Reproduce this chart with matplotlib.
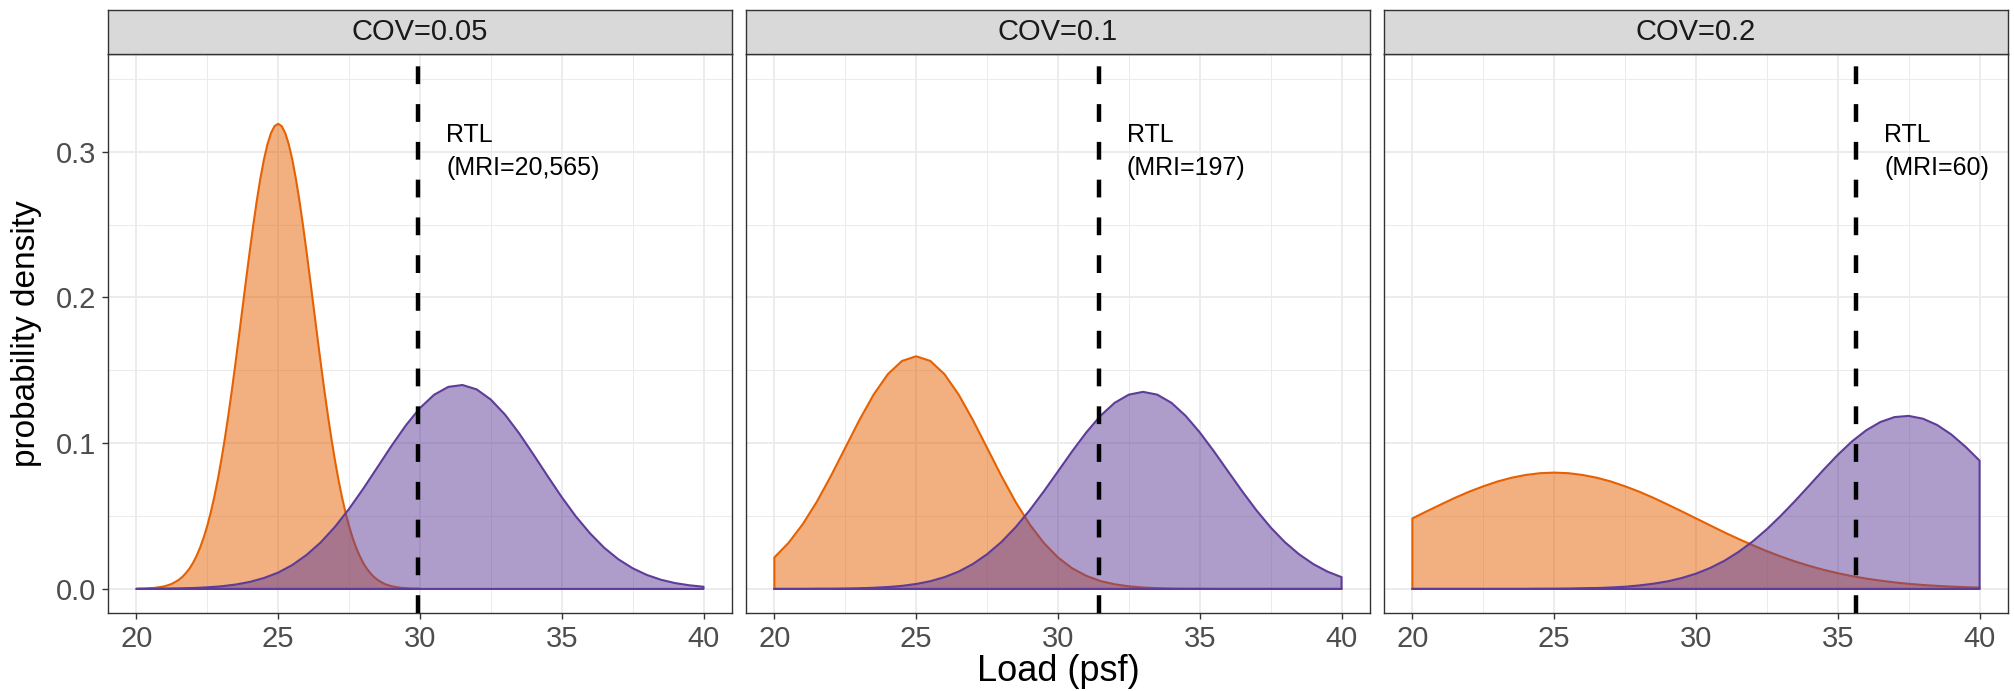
import numpy as np
import matplotlib.pyplot as plt
from matplotlib.colors import to_rgba

plt.rcParams['font.family'] = ['Liberation Sans', 'DejaVu Sans']

# load grid (psf) the densities were read on
load = np.arange(20, 40.01, 0.5)
load_fine = np.arange(20, 30.001, 0.125)   # narrow peak of COV=0.05 needs a finer grid

panels = ["COV=0.05", "COV=0.1", "COV=0.2"]
rtl = [29.92, 31.43, 35.64]
rtl_labels = ["RTL\n(MRI=20,565)", "RTL\n(MRI=197)", "RTL\n(MRI=60)"]

# orange densities
orange_05 = [0.0001, 0.0002, 0.0002, 0.0003, 0.0005, 0.0007, 0.0010, 0.0014, 0.0019, 0.0026,
             0.0035, 0.0048, 0.0063, 0.0083, 0.0109, 0.0140, 0.0179, 0.0227, 0.0284, 0.0352,
             0.0432, 0.0525, 0.0632, 0.0752, 0.0887, 0.1036, 0.1198, 0.1371, 0.1554, 0.1743,
             0.1936, 0.2129, 0.2317, 0.2498, 0.2666, 0.2816, 0.2946, 0.3051, 0.3128, 0.3175,
             0.3191,
             0.3175, 0.3128, 0.3051, 0.2946, 0.2816, 0.2666, 0.2498, 0.2317, 0.2129, 0.1936,
             0.1743, 0.1554, 0.1371, 0.1198, 0.1036, 0.0887, 0.0752, 0.0632, 0.0525, 0.0432,
             0.0352, 0.0284, 0.0227, 0.0179, 0.0140, 0.0109, 0.0083, 0.0063, 0.0048, 0.0035,
             0.0026, 0.0019, 0.0014, 0.0010, 0.0007, 0.0005, 0.0003, 0.0002, 0.0002, 0.0001]
orange_10 = [0.0216, 0.0316, 0.0444, 0.0599, 0.0777, 0.0968, 0.1159, 0.1333, 0.1473, 0.1564,
             0.1596, 0.1564, 0.1473, 0.1333, 0.1159, 0.0968, 0.0777, 0.0599, 0.0444, 0.0316,
             0.0216, 0.0142, 0.0090, 0.0054, 0.0032, 0.0018, 0.0010, 0.0005, 0.0002, 0.0001,
             0.0001, 0.0, 0.0, 0.0, 0.0, 0.0, 0.0, 0.0, 0.0, 0.0,
             0.0]
orange_20 = [0.0484, 0.0532, 0.0579, 0.0625, 0.0667, 0.0704, 0.0737, 0.0763, 0.0782, 0.0794,
             0.0798, 0.0794, 0.0782, 0.0763, 0.0737, 0.0704, 0.0667, 0.0625, 0.0579, 0.0532,
             0.0484, 0.0436, 0.0388, 0.0343, 0.0300, 0.0259, 0.0222, 0.0188, 0.0158, 0.0131,
             0.0108, 0.0088, 0.0071, 0.0057, 0.0045, 0.0035, 0.0027, 0.0021, 0.0016, 0.0012,
             0.0009]

# purple densities
purple_05 = [0.0000, 0.0001, 0.0002, 0.0003, 0.0006, 0.0011, 0.0018, 0.0030, 0.0048, 0.0075,
             0.0112, 0.0164, 0.0233, 0.0319, 0.0425, 0.0549, 0.0687, 0.0834, 0.0982, 0.1121,
             0.1241, 0.1332, 0.1386, 0.1399, 0.1369, 0.1299, 0.1196, 0.1067, 0.0923, 0.0775,
             0.0630, 0.0497, 0.0381, 0.0282, 0.0203, 0.0142, 0.0096, 0.0063, 0.0040, 0.0025,
             0.0015]
purple_10 = [0.0000, 0.0000, 0.0000, 0.0001, 0.0001, 0.0002, 0.0004, 0.0008, 0.0013, 0.0021,
             0.0034, 0.0053, 0.0081, 0.0119, 0.0171, 0.0238, 0.0321, 0.0422, 0.0539, 0.0669,
             0.0806, 0.0944, 0.1074, 0.1188, 0.1277, 0.1333, 0.1352, 0.1333, 0.1277, 0.1188,
             0.1074, 0.0944, 0.0806, 0.0669, 0.0539, 0.0422, 0.0321, 0.0238, 0.0171, 0.0119,
             0.0081]
purple_20 = [0.0, 0.0, 0.0, 0.0, 0.0, 0.0, 0.0000, 0.0000, 0.0000, 0.0001,
             0.0001, 0.0002, 0.0004, 0.0006, 0.0010, 0.0015, 0.0024, 0.0036, 0.0052, 0.0075,
             0.0105, 0.0144, 0.0193, 0.0254, 0.0326, 0.0410, 0.0504, 0.0605, 0.0711, 0.0818,
             0.0920, 0.1012, 0.1088, 0.1145, 0.1179, 0.1187, 0.1168, 0.1125, 0.1060, 0.0976,
             0.0880]

orange_x = [load_fine, load, load]
orange_y = [orange_05, orange_10, orange_20]
purple_y = [purple_05, purple_10, purple_20]

orange = '#E66101'
purple = '#5E3C99'

fig = plt.figure(figsize=(20.14, 6.91), dpi=100)

# panel geometry in figure fractions
lefts = [0.0536, 0.3704, 0.6872]
width = 0.3098
bottom, height = 0.1129, 0.8090
strip_h = 0.0637


def area(ax, x, y, col):
    # closed outline like ggplot's density area
    xs = np.concatenate([[x[0]], x, [x[-1]]])
    ys = np.concatenate([[0], y, [0]])
    ax.fill(xs, ys, facecolor=to_rgba(col, 0.5), edgecolor=col, lw=1.5,
            joinstyle='round', zorder=2)


for i in range(3):
    ax = fig.add_axes([lefts[i], bottom, width, height])
    area(ax, orange_x[i], orange_y[i], orange)
    area(ax, load, purple_y[i], purple)
    ax.axvline(rtl[i], color='black', lw=3.2, dashes=(4, 4.5), zorder=3)
    ax.text(rtl[i] + 1, 0.30, rtl_labels[i], fontsize=18, ha='left', va='center',
            linespacing=1.5, zorder=4)

    ax.set_xlim(19, 41)
    ax.set_ylim(-0.0165, 0.367)
    ax.set_xticks([20, 25, 30, 35, 40])
    ax.set_xticks([22.5, 27.5, 32.5, 37.5], minor=True)
    ax.set_yticks([0, 0.1, 0.2, 0.3])
    ax.set_yticks([0.05, 0.15, 0.25, 0.35], minor=True)
    ax.grid(which='major', color='#EBEBEB', lw=1.3)
    ax.grid(which='minor', color='#EBEBEB', lw=0.7)
    ax.set_axisbelow(True)
    ax.tick_params(which='minor', length=0)
    ax.tick_params(which='major', direction='out', length=4.5, width=1, color='#333333',
                   labelsize=21, labelcolor='#4D4D4D', pad=4)
    ax.set_xticklabels(['20', '25', '30', '35', '40'])
    if i == 0:
        ax.set_yticklabels(['0.0', '0.1', '0.2', '0.3'])
    else:
        ax.tick_params(axis='y', which='both', left=False, labelleft=False)
    for s in ax.spines.values():
        s.set_color('#333333')
        s.set_linewidth(1.0)

    # facet strip
    sax = fig.add_axes([lefts[i], bottom + height, width, strip_h])
    sax.set_facecolor('#D9D9D9')
    sax.set_xticks([])
    sax.set_yticks([])
    for s in sax.spines.values():
        s.set_color('#333333')
        s.set_linewidth(1.0)
    sax.text(0.5, 0.5, panels[i], transform=sax.transAxes, ha='center', va='center',
             fontsize=21, color='#1A1A1A')

fig.text(0.5253, 0.028, 'Load (psf)', ha='center', va='center', fontsize=26)
fig.text(0.013, 0.517, 'probability density', ha='center', va='center', rotation=90,
         fontsize=24)

fig.savefig('out.png', dpi=100)
